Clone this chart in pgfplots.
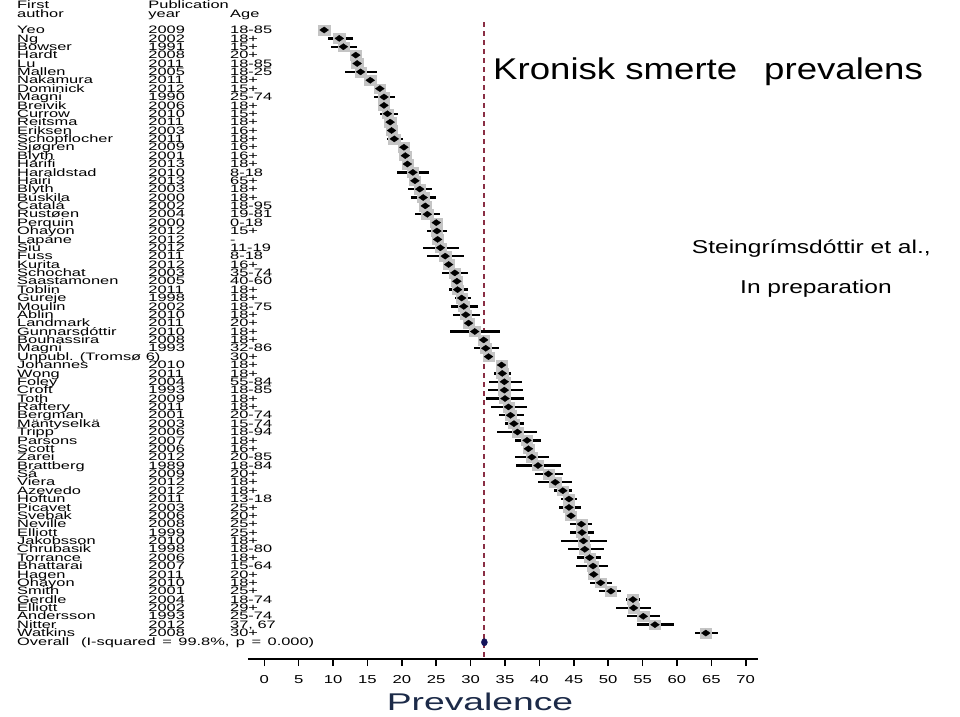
\documentclass[border=0pt]{standalone}
\usepackage{pgfplots}
\pgfplotsset{compat=1.18}
\usepackage{pgfplotstable}
\usepackage{fontspec}
\setmainfont{Liberation Sans}
\newfontfamily\colfont{Liberation Sans}[FakeStretch=1.52]
\newfontfamily\tickfont{Liberation Sans}[FakeStretch=1.45]
\newfontfamily\titlefont{Liberation Sans}[FakeStretch=1.22]
\newfontfamily\notefont{Liberation Sans}[FakeStretch=1.32]
\newfontfamily\labfont{Liberation Sans}[FakeStretch=1.54]
\definecolor{refred}{HTML}{8A2E44}
\definecolor{navy}{HTML}{1C2A48}
\definecolor{dotnavy}{HTML}{14145A}
\definecolor{boxgray}{HTML}{C4C4C4}

\pgfplotstableread[col sep=semicolon]{
row;name;year;age;est;lo;hi
1;Yeo;2009;18-85;8.7;8.2;9.2
2;Ng;2002;18+;10.9;9.2;12.9
3;Bowser;1991;15+;11.5;9.7;13.5
4;Hardt;2008;20+;13.3;12.8;13.8
5;Lu;2011;18-85;13.5;13.0;14.0
6;Mallen;2005;18-25;14.0;11.7;16.4
7;Nakamura;2011;18+;15.4;14.9;15.9
8;Dominick;2012;15+;16.8;16.3;17.3
9;Magni;1990;25-74;17.4;15.9;19.0
10;Breivik;2006;18+;17.4;16.9;17.9
11;Currow;2010;15+;17.9;16.8;19.5
12;Reitsma;2011;18+;18.3;17.8;18.8
13;Eriksen;2003;16+;18.5;18.0;19.0
14;Schopflocher;2011;18+;18.9;17.8;20.2
15;Sjøgren;2009;16+;20.3;19.8;20.8
16;Blyth;2001;16+;20.5;20.0;21.0
17;Harifi;2013;18+;20.8;20.2;21.4
18;Haraldstad;2010;8-18;21.6;19.3;23.9
19;Hairi;2013;65+;21.9;21.3;22.5
20;Blyth;2003;18+;22.6;20.9;24.4
21;Buskila;2000;18+;23.1;21.4;25.0
22;Catalá;2002;18-95;23.4;22.8;24.0
23;Rustøen;2004;19-81;23.7;21.9;25.5
24;Perquin;2000;0-18;25.0;24.2;26.0
25;Ohayon;2012;15+;25.1;23.6;26.6
26;Lapane;2012;-;25.2;24.6;25.8
27;Siu;2012;11-19;25.6;23.1;28.3
28;Fuss;2011;8-18;26.3;23.6;29.0
29;Kurita;2012;16+;26.8;26.3;27.3
30;Schochat;2003;35-74;27.7;25.8;29.6
31;Saastamonen;2005;40-60;28.0;27.4;28.6
32;Toblin;2011;18+;28.1;26.9;29.6
33;Gureje;1998;18+;28.7;27.7;30.0
34;Moulin;2002;18-75;29.0;27.1;31.0
35;Ablin;2010;18+;29.3;27.4;31.4
36;Landmark;2011;20+;29.7;29.1;30.3
37;Gunnarsdóttir;2010;18+;30.6;27.0;34.3
38;Bouhassira;2008;18+;31.9;31.3;32.5
39;Magni;1993;32-86;32.2;30.5;34.1
40;Unpubl. (Tromsø 6);{};30+;32.6;32.0;33.2
41;Johannes;2010;18+;34.5;33.9;35.1
42;Wong;2011;18+;34.6;33.4;35.8
43;Foley;2004;55-84;34.9;32.6;37.5
44;Croft;1993;18-85;34.9;32.5;37.6
45;Toth;2009;18+;35.0;32.3;37.8
46;Raftery;2011;18+;35.5;32.9;38.2
47;Bergman;2001;20-74;35.8;34.1;37.7
48;Mäntyselkä;2003;15-74;36.3;35.0;37.8
49;Tripp;2006;18-94;36.8;33.9;39.7
50;Parsons;2007;18+;38.2;36.4;40.2
51;Scott;2006;16+;38.4;37.8;39.0
52;Zarei;2012;20-85;38.9;36.5;41.4
53;Brattberg;1989;18-84;39.8;36.6;43.2
54;Sá;2009;20+;41.3;39.4;43.4
55;Viera;2012;18+;42.3;39.8;44.7
56;Azevedo;2012;18+;43.4;42.1;44.7
57;Hoftun;2011;13-18;44.3;43.2;45.4
58;Picavet;2003;25+;44.3;42.8;46.0
59;Svebak;2006;20+;44.6;44.0;45.2
60;Neville;2008;25+;46.1;44.5;47.7
61;Elliott;1999;25+;46.2;44.5;48.0
62;Jakobsson;2010;18+;46.4;43.1;49.9
63;Chrubasik;1998;18-80;46.6;44.1;49.4
64;Torrance;2006;18+;47.3;45.5;49.0
65;Bhattarai;2007;15-64;47.8;45.3;50.0
66;Hagen;2011;20+;47.9;47.3;48.5
67;Ohayon;2010;18+;48.9;47.3;50.6
68;Smith;2001;25+;50.4;48.7;51.9
69;Gerdle;2004;18-74;53.6;52.6;54.6
70;Elliott;2002;29+;53.7;51.2;56.2
71;Andersson;1993;25-74;55.1;52.7;57.6
72;Nitter;2012;37, 67;56.8;54.2;59.5
73;Watkins;2008;30+;64.2;62.6;65.9
}\studies

\begin{document}
\begin{tikzpicture}
\path[use as bounding box] (-247.8pt,-57pt) rectangle (712.2pt,659pt);
\begin{axis}[
  at={(0pt,0pt)}, anchor=south west,
  scale only axis, width=510.3pt, height=659pt,
  xmin=-2.4, xmax=71.8, ymin=-76.1, ymax=2.582,
  axis x line=bottom, axis y line=none,
  axis line style={line width=1.6pt, -, black},
  xtick={0,5,...,70}, tick align=outside, major tick length=7pt,
  tick style={line width=1.6pt, black},
  xticklabel style={font=\tickfont\fontsize{11.5}{11.5}\selectfont, yshift=-6pt},
  /pgf/number format/assume math mode=true,
  clip=false,
]
\addplot[refred, line width=2.2pt, dash pattern=on 5pt off 4pt] coordinates {(32,-0.1) (32,-76.1)};
\addplot[only marks, boxgray, mark=square*, mark size=4.9pt, mark options={draw=boxgray, fill=boxgray, xscale=1.15}]
  table[x=est, y expr=-\thisrow{row}] {\studies};
\addplot[only marks, black, mark=diamond*, mark size=3.1pt,
  mark options={xscale=1.9, fill=black, draw=black, line width=0.3pt},
  error bars/.cd, x dir=both, x explicit, error mark=none,
  error bar style={line width=2.4pt, black}]
  table[x=est, y expr=-\thisrow{row},
        x error plus expr=\thisrow{hi}-\thisrow{est},
        x error minus expr=\thisrow{est}-\thisrow{lo}] {\studies};
\addplot[only marks, dotnavy, mark=*, mark size=3pt, mark options={fill=dotnavy, draw=dotnavy, yscale=1.2}]
  coordinates {(32,-74.1)};
\addplot[draw=none, point meta=explicit symbolic, nodes near coords,
  nodes near coords style={anchor=base west, inner sep=0pt, font=\colfont\fontsize{10.8}{10.8}\selectfont, text=black}]
  table[x expr=-35.96, y expr=-\thisrow{row}-0.44, meta=name] {\studies};
\addplot[draw=none, point meta=explicit symbolic, nodes near coords,
  nodes near coords style={anchor=base west, inner sep=0pt, font=\colfont\fontsize{10.8}{10.8}\selectfont, text=black}]
  table[x expr=-16.87, y expr=-\thisrow{row}-0.44, meta=year] {\studies};
\addplot[draw=none, point meta=explicit symbolic, nodes near coords,
  nodes near coords style={anchor=base west, inner sep=0pt, font=\colfont\fontsize{10.8}{10.8}\selectfont, text=black}]
  table[x expr=-4.99, y expr=-\thisrow{row}-0.44, meta=age] {\studies};
\end{axis}
\begin{scope}[every node/.style={inner sep=0pt, font=\colfont\fontsize{10.8}{10.8}\selectfont}]
\node[anchor=base west] at (-230.8pt,650.7pt) {First};
\node[anchor=base west] at (-230.8pt,641.7pt) {author};
\node[anchor=base west] at (-99.5pt,650.7pt) {Publication};
\node[anchor=base west] at (-99.5pt,641.7pt) {year};
\node[anchor=base west] at (-17.8pt,641.7pt) {Age};
\node[anchor=base west] at (-230.8pt,13.9pt) {Overall\hspace{1.1em}(I-squared\hspace{0.6em}=\hspace{0.6em}99.8\%,\hspace{0.6em}p\hspace{0.6em}=\hspace{0.6em}0.000)};
\end{scope}
\node[anchor=base west, inner sep=0pt, font=\titlefont\fontsize{30}{30}\selectfont] at (245.2pt,579pt) {Kronisk smerte\hspace{0.9em}prevalens};
\node[anchor=base west, inner sep=0pt, font=\notefont\fontsize{18.6}{18.6}\selectfont] at (443.9pt,405.7pt) {Steingrímsdóttir et al.,};
\node[anchor=base west, inner sep=0pt, font=\notefont\fontsize{18.6}{18.6}\selectfont] at (492.2pt,366pt) {In preparation};
\node[anchor=base, inner sep=0pt, text=navy, font=\labfont\fontsize{24.2}{24.2}\selectfont] at (232.2pt,-51.7pt) {Prevalence};
\end{tikzpicture}
\end{document}
